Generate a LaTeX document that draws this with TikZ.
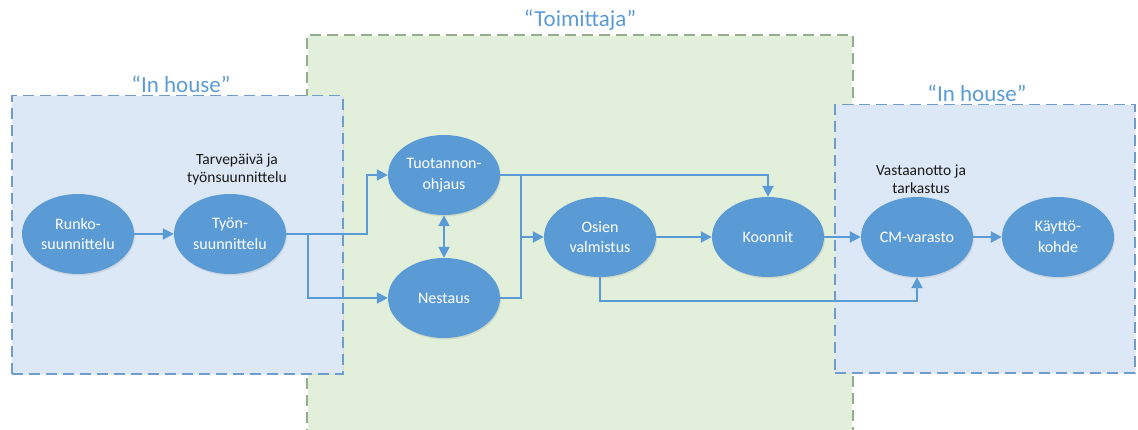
\documentclass[tikz,border=0pt]{standalone}
\usepackage{fontspec}
\setmainfont{Carlito}
\usetikzlibrary{shapes.geometric,arrows.meta,shadows}
\definecolor{nodeblue}{HTML}{5B9BD5}
\definecolor{boxblue}{HTML}{DCE8F5}
\definecolor{boxblueline}{HTML}{6F9CCB}
\definecolor{boxgreen}{HTML}{E2EFDA}
\definecolor{boxgreenline}{HTML}{93AE8A}
\definecolor{labelblue}{HTML}{5B9BD5}
\tikzset{
  proc/.style={ellipse, fill=nodeblue, text=white, minimum width=112pt, minimum height=80pt,
    inner sep=0pt, align=center, font=\fontsize{16}{20.5}\selectfont,
    drop shadow={opacity=0.18, shadow xshift=1pt, shadow yshift=-1.5pt}},
  inhousebox/.style={draw=boxblueline, fill=boxblue, dash pattern=on 11pt off 6pt, line width=1.5pt,
    drop shadow={opacity=0.12, shadow xshift=1pt, shadow yshift=-1.5pt}},
  supplierbox/.style={draw=boxgreenline, dash pattern=on 11pt off 6pt, line width=1.2pt},
  grouplabel/.style={text=labelblue, font=\fontsize{23}{27}\selectfont, anchor=base, inner sep=0pt},
  steplabel/.style={text=black!90, font=\fontsize{15.5}{18}\selectfont, align=center, inner sep=0pt},
  conn/.style={draw=nodeblue, line width=2pt},
  arr/.style={conn, -{Triangle[length=11pt,width=11pt]}},
  dbl/.style={conn, {Triangle[length=11pt,width=11pt]}-{Triangle[length=11pt,width=11pt]}},
}
\begin{document}
\begin{tikzpicture}[x=1pt,y=-1pt]
\useasboundingbox (0,0) rectangle (1138,430);
% supplier group box (open at the bottom)
\fill[boxgreen] (307.6,35.6) rectangle (852.4,440);
\draw[supplierbox] (307,440) -- (307,35) -- (853,35) -- (853,440);
% in-house group boxes
\node[inhousebox, minimum width=331pt, minimum height=278pt, anchor=north west, inner sep=0pt] (lbox) at (11,95) {};
\node[inhousebox, minimum width=300pt, minimum height=268pt, anchor=north west, inner sep=0pt] (rbox) at (834,104) {};
\node[grouplabel] (lhouse) at (181,93) {“In house”};
\node[grouplabel] (rhouse) at (977,102) {“In house”};
\node[grouplabel] (supp) at (580,27) {“Toimittaja”};
% process nodes
\node[proc] (runko) at (78,234) {Runko-\\suunnittelu};
\node[proc] (tyon) at (230,234) {Työn-\\suunnittelu};
\node[proc] (tuot) at (444,175) {Tuotannon-\\ohjaus};
\node[proc] (nest) at (444,298) {Nestaus};
\node[proc] (osien) at (600,237) {Osien\\valmistus};
\node[proc] (koon) at (768,237) {Koonnit};
\node[proc] (cm) at (917,237) {CM-varasto};
\node[proc] (kayt) at (1058,237) {Käyttö-\\kohde};
% step labels
\node[steplabel] (tarve) at (237,169) {Tarvepäivä ja\\työnsuunnittelu};
\node[steplabel] (vast) at (921,179) {Vastaanotto ja\\tarkastus};
% junction coordinates
\coordinate (b1) at (367,234);
\coordinate (b2) at (308,234);
\coordinate (j1) at (521,175);
\coordinate (j2) at (521,237);
% connectors
\draw[arr] (runko) -- (tyon);
\draw[arr] (tyon.east) -- (b1) |- (tuot.west);
\draw[arr] (b2) |- (nest.west);
\draw[dbl] (tuot.south) -- (nest.north);
\draw[arr] (tuot.east) -| (koon.north);
\draw[conn] (nest.east) -| (j1);
\draw[arr] (j2) -- (osien.west);
\draw[arr] (osien) -- (koon);
\draw[arr] (koon) -- (cm);
\draw[arr] (osien.south) -- ++(0,24) -| (cm.south);
\draw[arr] (cm) -- (kayt);
\end{tikzpicture}
\end{document}
